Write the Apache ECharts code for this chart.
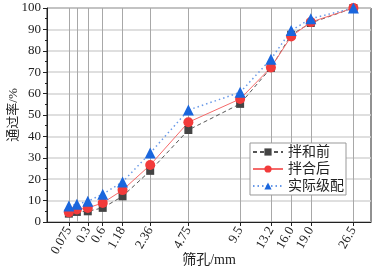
<!DOCTYPE html>
<html lang="zh">
<head>
    <meta charset="UTF-8">
    <title>级配曲线</title>
    <script src="https://cdn.jsdelivr.net/npm/echarts@6/dist/echarts.min.js"></script>
    <style>
        *{margin:0;padding:0;}
        html,body{width:373px;height:274px;background:#fff;}
        #chart{width:373px;height:274px;}
    </style>
</head>
<body>
    <div id="chart"></div>
    <script>
        // 筛孔尺寸 (mm) 与刻度文字
        var sieves=[0.075,0.15,0.3,0.6,1.18,2.36,4.75,9.5,13.2,16.0,19.0,26.5];
        var sieveLabels=['0.075','0.15','0.3','0.6','1.18','2.36','4.75','9.5','13.2','16.0','19.0','26.5'];
        // 通过率 (%)
        var beforeMix=[3.9,4.7,5.0,6.6,12.0,23.9,43.0,55.2,72.0,87.5,93.0,100];
        var afterMix=[4.5,5.8,6.6,8.9,14.9,26.6,46.6,57.5,72.2,86.7,93.4,100];
        var actual=[7.5,8.3,9.7,13.0,18.7,32.2,52.3,60.6,76.1,89.5,95.0,100];

        var P=0.45;//0.45次方横坐标
        function px(d){return Math.pow(d,P);}
        var tickPos=sieves.map(px);
        function pairs(vals){
            return sieves.map(function(d,i){return [px(d),vals[i]];});
        }
        var serif="'Liberation Serif','Times New Roman','Noto Sans CJK SC',serif";

        var chart=echarts.init(document.getElementById('chart'));
        var option={
            animation:false,
            grid:{left:47,right:2,top:8,bottom:52,show:true,borderColor:'#222',borderWidth:1,containLabel:false,outerBoundsMode:'none'},
            legend:{
                orient:'vertical',
                right:27,top:143,
                backgroundColor:'#fff',
                borderColor:'#999',borderWidth:1,
                padding:[2,2,2,2],
                itemWidth:30,itemHeight:9,itemGap:3,
                textStyle:{fontFamily:serif,fontSize:14,color:'#222'},
                data:['拌和前','拌合后','实际级配']
            },
            xAxis:{
                type:'value',
                min:0,max:px(30),
                name:'筛孔/mm',
                nameLocation:'middle',
                nameGap:31,
                nameMoveOverlap:false,
                nameTextStyle:{fontFamily:serif,fontSize:14,color:'#222'},
                axisLine:{lineStyle:{color:'#222'}},
                axisTick:{show:true,length:4,customValues:tickPos,lineStyle:{color:'#222'}},
                axisLabel:{
                    customValues:tickPos,
                    rotate:60,
                    margin:6,
                    hideOverlap:false,
                    showMinLabel:true,
                    fontFamily:serif,fontSize:13,color:'#222',
                    formatter:function(v){
                        var best=0;
                        for(var i=0;i<tickPos.length;i++){
                            if(Math.abs(tickPos[i]-v)<Math.abs(tickPos[best]-v)) best=i;
                        }
                        return sieveLabels[best];
                    }
                },
                splitLine:{show:true,lineStyle:{color:'#a8a8a8',width:1}}
            },
            yAxis:{
                type:'value',
                min:0,max:100,interval:10,
                name:'通过率/%',
                nameLocation:'middle',
                nameGap:27,
                nameMoveOverlap:false,
                nameTextStyle:{fontFamily:serif,fontSize:13,color:'#222'},
                axisLine:{show:true,lineStyle:{color:'#222'}},
                axisTick:{show:true,length:4,lineStyle:{color:'#222'}},
                minorTick:{show:true,splitNumber:2,length:2,lineStyle:{color:'#222'}},
                axisLabel:{margin:6,fontFamily:serif,fontSize:13,color:'#222'},
                splitLine:{show:true,lineStyle:{color:'#d4d4d4',width:1.5}}
            },
            series:[
                {
                    name:'拌和前',type:'line',
                    data:pairs(beforeMix),
                    symbol:'rect',symbolSize:8,
                    itemStyle:{color:'#444'},
                    lineStyle:{color:'#555',width:1,type:[4,3]}
                },
                {
                    name:'拌合后',type:'line',
                    data:pairs(afterMix),
                    symbol:'circle',symbolSize:10,
                    itemStyle:{color:'#f23b3b'},
                    lineStyle:{color:'#f56a6a',width:1}
                },
                {
                    name:'实际级配',type:'line',
                    data:pairs(actual),
                    symbol:'triangle',symbolSize:11,
                    itemStyle:{color:'#1a66dd'},
                    lineStyle:{color:'#6a9ae8',width:1.5,type:[1.5,3]}
                }
            ]
        };
        chart.setOption(option);
    </script>
</body>
</html>
